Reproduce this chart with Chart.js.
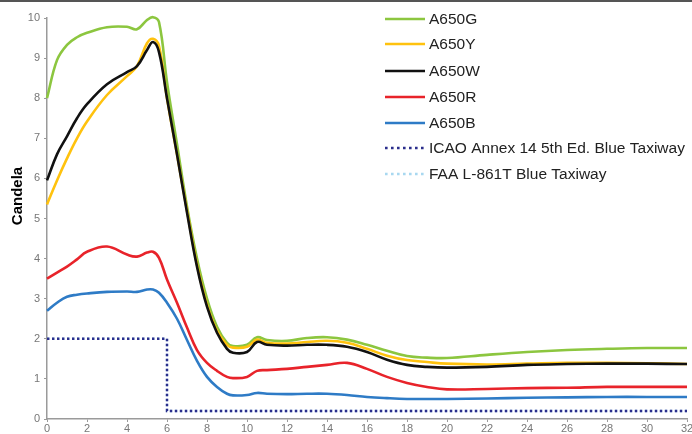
<!DOCTYPE html>
<html>
<head>
<meta charset="utf-8">
<script src="https://cdn.jsdelivr.net/npm/chart.js@4.4.0/dist/chart.umd.min.js"></script>
<style>
  html, body { margin: 0; padding: 0; background: #fff; }
  #wrap { width: 692px; height: 432px; border-top: 2px solid #555; }
</style>
</head>
<body>
<div id="wrap"><canvas id="candelaChart" width="692" height="432"></canvas></div>
<script>
// angle (degrees) shared by the measured curves
const angles = [0, 0.5, 1, 1.5, 2, 3, 4, 4.5, 5, 5.3, 5.6, 6, 6.5, 7, 7.5, 8, 8.5, 9, 9.3, 10, 10.5, 11,
                12, 13, 14, 15, 16, 17, 18, 19, 20, 22, 24, 26, 28, 30, 32];

const a650G = [8.0, 8.95, 9.33, 9.52, 9.63, 9.77, 9.78, 9.72, 9.95, 10.02, 9.9, 8.4, 6.85, 5.3, 4.0, 3.0, 2.3, 1.9, 1.82, 1.85, 2.04, 1.97,
               1.95, 2.02, 2.04, 1.98, 1.85, 1.7, 1.57, 1.53, 1.52, 1.6, 1.67, 1.72, 1.75, 1.77, 1.77];
const a650Y = [5.35, 5.95, 6.5, 7.0, 7.42, 8.08, 8.55, 8.8, 9.37, 9.48, 9.3, 8.0, 6.6, 5.2, 3.85, 2.85, 2.2, 1.85, 1.78, 1.8, 1.98, 1.9,
               1.88, 1.92, 1.95, 1.9, 1.75, 1.58, 1.47, 1.42, 1.38, 1.36, 1.38, 1.4, 1.4, 1.39, 1.37];
const a650W = [5.95, 6.6, 7.05, 7.5, 7.85, 8.35, 8.65, 8.8, 9.2, 9.4, 9.15, 8.0, 6.6, 5.15, 3.8, 2.8, 2.15, 1.75, 1.65, 1.67, 1.92, 1.85,
               1.83, 1.85, 1.85, 1.8, 1.67, 1.48, 1.35, 1.3, 1.28, 1.3, 1.35, 1.37, 1.38, 1.38, 1.37];
const a650R = [3.5, 3.65, 3.8, 3.98, 4.17, 4.3, 4.1, 4.05, 4.15, 4.17, 4.02, 3.48, 2.9, 2.28, 1.72, 1.4, 1.2, 1.05, 1.02, 1.05, 1.2, 1.22,
               1.25, 1.3, 1.35, 1.4, 1.25, 1.05, 0.9, 0.8, 0.74, 0.75, 0.77, 0.78, 0.8, 0.8, 0.8];
const a650B = [2.7, 2.9, 3.05, 3.1, 3.13, 3.17, 3.18, 3.17, 3.23, 3.23, 3.15, 2.9, 2.5, 1.97, 1.45, 1.05, 0.8, 0.63, 0.59, 0.6, 0.65, 0.63,
               0.62, 0.63, 0.63, 0.6, 0.55, 0.52, 0.5, 0.5, 0.5, 0.51, 0.53, 0.54, 0.55, 0.55, 0.55];

// minimum intensity requirements (step curves)
const stepAngles = [0, 6, 6, 32];
const icaoBlue = [2, 2, 0.2, 0.2];
const faaBlue = [2, 2, 0.2, 0.2];

const xTicks = [0, 2, 4, 6, 8, 10, 12, 14, 16, 18, 20, 22, 24, 26, 28, 30, 32];
const yTicks = [0, 1, 2, 3, 4, 5, 6, 7, 8, 9, 10];

const toPoints = (xs, ys) => xs.map((x, i) => ({ x: x, y: ys[i] }));

const curve = (label, values, color, order) => ({
    label: label,
    data: toPoints(angles, values),
    borderColor: color,
    backgroundColor: color,
    borderWidth: 2.6,
    pointRadius: 0,
    tension: 0.4,
    clip: 8,
    order: order
});

const datasets = [
    curve('A650G', a650G, '#8cc63f', 5),
    curve('A650Y', a650Y, '#ffc20e', 4),
    curve('A650W', a650W, '#111111', 3),
    curve('A650R', a650R, '#e8232a', 2),
    curve('A650B', a650B, '#2e7bc6', 1),
    {
        label: 'ICAO Annex 14 5th Ed. Blue Taxiway',
        data: toPoints(stepAngles, icaoBlue),
        borderColor: '#2b2e8c',
        borderWidth: 2.4,
        borderDash: [2.4, 2.6],
        pointRadius: 0,
        tension: 0,
        order: 0
    },
    {
        label: 'FAA L-861T Blue Taxiway',
        data: toPoints(stepAngles, faaBlue),
        borderColor: '#a8d8f0',
        borderWidth: 2.4,
        borderDash: [2.4, 2.6],
        pointRadius: 0,
        tension: 0,
        order: 6
    }
];

// legend and axis title drawn at the spots they occupy in the original figure
const sideLegend = {
    id: 'sideLegend',
    afterDraw(chart) {
        const ctx = chart.ctx;
        const rows = [17, 42, 69, 95, 121, 146, 172];
        ctx.save();
        chart.data.datasets.forEach((ds, i) => {
            const y = rows[i];
            ctx.beginPath();
            ctx.strokeStyle = ds.borderColor;
            ctx.lineWidth = 2.6;
            ctx.setLineDash(ds.borderDash ? [2.6, 3.4] : []);
            ctx.moveTo(385, y);
            ctx.lineTo(425, y);
            ctx.stroke();
            ctx.setLineDash([]);
            ctx.fillStyle = '#222';
            ctx.font = '15.5px "Liberation Sans", Arial, sans-serif';
            ctx.textBaseline = 'middle';
            ctx.fillText(ds.label, 429, y + 1);
        });
        ctx.translate(18, 194);
        ctx.rotate(-Math.PI / 2);
        ctx.fillStyle = '#000';
        ctx.font = 'bold 15px "Liberation Sans", Arial, sans-serif';
        ctx.textAlign = 'center';
        ctx.textBaseline = 'middle';
        ctx.fillText('Candela', 0, 0);
        ctx.restore();
    }
};

const axisGrey = '#9a9a9a';
const tickFont = { family: '"Liberation Sans", Arial, sans-serif', size: 11 };

const ctx = document.getElementById('candelaChart').getContext('2d');
const candelaChart = new Chart(ctx, {
    type: 'line',
    data: { datasets: datasets },
    options: {
        responsive: false,
        maintainAspectRatio: false,
        animation: false,
        layout: { padding: { top: 16, right: 5, left: 0, bottom: 0 } },
        plugins: {
            legend: { display: false },
            tooltip: { enabled: false }
        },
        scales: {
            x: {
                type: 'linear',
                min: 0,
                max: 32,
                afterBuildTicks: s => { s.ticks = xTicks.map(v => ({ value: v })); },
                afterFit: s => { s.height = 15; s.paddingLeft = 0; s.paddingRight = 0; },
                grid: { drawOnChartArea: false, drawTicks: true, tickLength: 3, color: axisGrey },
                border: { color: axisGrey, width: 1.5 },
                ticks: { color: '#777', font: tickFont, padding: 0, maxRotation: 0, autoSkip: false }
            },
            y: {
                min: 0,
                max: 10,
                afterBuildTicks: s => { s.ticks = yTicks.map(v => ({ value: v })); },
                afterFit: s => { s.width = 47; },
                grid: { drawOnChartArea: false, drawTicks: true, tickLength: 3, color: axisGrey },
                border: { color: axisGrey, width: 1.5 },
                ticks: { color: '#777', font: tickFont, padding: 4 }
            }
        }
    },
    plugins: [sideLegend]
});
</script>
</body>
</html>
